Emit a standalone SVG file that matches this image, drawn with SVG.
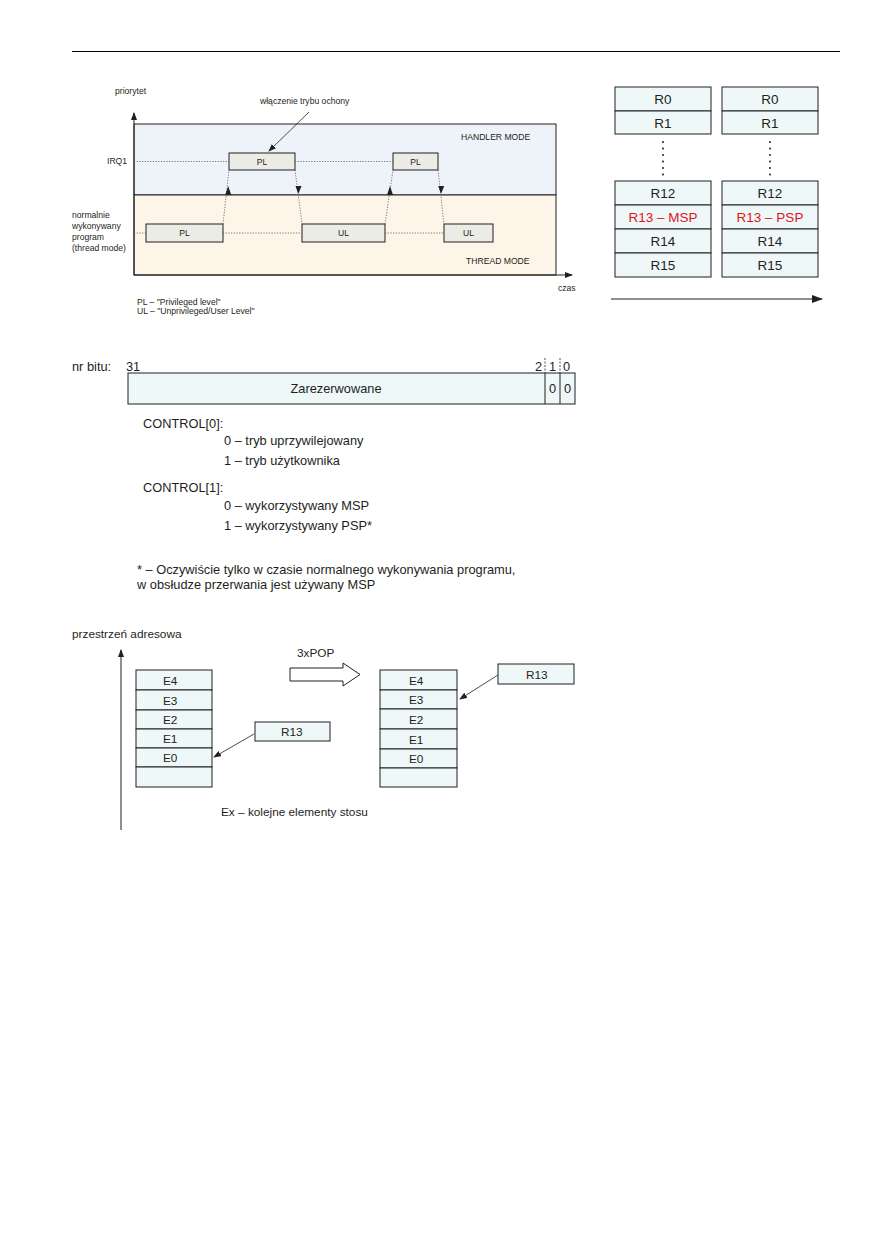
<svg xmlns="http://www.w3.org/2000/svg" width="893" height="1254" viewBox="0 0 893 1254">
<style>
text{font-family:"Liberation Sans",Arial,sans-serif;fill:#231f20}
.s7{font-size:8.6px}
.s11{font-size:12.8px}
.s10{font-size:11.8px}
.reg{font-size:13.5px;text-anchor:middle}
.red{fill:#e3131b}
.box{stroke:#231f20;stroke-width:1}
.pl{fill:#ececE6;stroke:#231f20;stroke-width:1}
.cy{fill:#eef8f8;stroke:#231f20;stroke-width:1}
.dot{stroke:#555;stroke-width:0.8;stroke-dasharray:1.2 1.5;fill:none}
.ln{stroke:#231f20;stroke-width:1;fill:none}
</style>
<defs>
<marker id="ah" markerWidth="8" markerHeight="6" refX="7" refY="3" orient="auto" markerUnits="userSpaceOnUse"><path d="M0,0L8,3L0,6z" fill="#231f20"/></marker>
<marker id="ahb" markerWidth="11" markerHeight="8" refX="10" refY="4" orient="auto" markerUnits="userSpaceOnUse"><path d="M0,0L11,4L0,8z" fill="#231f20"/></marker>
</defs>
<rect width="893" height="1254" fill="#fff"/>
<line x1="72" y1="51.5" x2="840" y2="51.5" stroke="#000" stroke-width="1.2"/>

<!-- Diagram 1: modes -->
<g id="modes">
<rect x="134" y="124" width="422" height="71" fill="#eef3fa" class="box"/>
<rect x="134" y="195" width="422" height="80" fill="#fdf5e8" class="box"/>
<text class="s7" x="461" y="140">HANDLER MODE</text>
<text class="s7" x="466" y="264">THREAD MODE</text>
<text class="s7" x="115" y="94">priorytet</text>
<text class="s7" x="558" y="291">czas</text>
<text class="s7" x="107" y="164">IRQ1</text>
<text class="s7" x="72" y="218">normalnie</text>
<text class="s7" x="72" y="229">wykonywany</text>
<text class="s7" x="72" y="240">program</text>
<text class="s7" x="72" y="251">(thread mode)</text>
<text class="s7" x="260" y="104">włączenie trybu ochony</text>
<text class="s7" x="137" y="305">PL – "Privileged level"</text>
<text class="s7" x="137" y="314">UL – "Unprivileged/User Level"</text>
</g>
<g id="axes">
<line x1="134" y1="275" x2="134" y2="113" class="ln" marker-end="url(#ah)"/>
<line x1="134" y1="275" x2="572" y2="275" class="ln" marker-end="url(#ah)"/>
</g>
<g id="pl1"><rect x="229" y="153" width="66" height="17" class="pl"/><text class="s7" x="262" y="164.5" text-anchor="middle">PL</text></g>
<g id="pl2"><rect x="393" y="153" width="45" height="17" class="pl"/><text class="s7" x="415.5" y="164.5" text-anchor="middle">PL</text></g>
<g id="pl0"><rect x="146" y="224" width="77" height="18" class="pl"/><text class="s7" x="184.5" y="236" text-anchor="middle">PL</text></g>
<g id="ul1"><rect x="302" y="224" width="83" height="18" class="pl"/><text class="s7" x="343.5" y="236" text-anchor="middle">UL</text></g>
<g id="ul2"><rect x="444" y="224" width="49" height="18" class="pl"/><text class="s7" x="468.5" y="236" text-anchor="middle">UL</text></g>
<g id="connectors1">
<line x1="134" y1="161.5" x2="229" y2="161.5" class="dot"/>
<line x1="295" y1="161.5" x2="393" y2="161.5" class="dot"/>
<line x1="134" y1="233" x2="146" y2="233" class="dot"/>
<line x1="223" y1="233" x2="302" y2="233" class="dot"/>
<line x1="385" y1="233" x2="444" y2="233" class="dot"/>
<path d="M223,224L229,170" class="dot"/>
<path d="M228.2,186L225.2,195L231.2,195z" fill="#231f20"/>
<path d="M295,170L302,224" class="dot"/>
<path d="M298.3,194L295.5,186L301.5,186z" fill="#231f20"/>
<path d="M385,224L393,170" class="dot"/>
<path d="M390,186L387,195L393,195z" fill="#231f20"/>
<path d="M438,170L444,224" class="dot"/>
<path d="M441,194L438.2,186L444.2,186z" fill="#231f20"/>
<line x1="309" y1="112" x2="269" y2="151" stroke="#231f20" stroke-width="0.8" marker-end="url(#ah)"/>
</g>

<!-- Diagram 2: registers -->
<g id="regs-msp">
<rect x="615" y="87" width="96" height="24" class="cy"/><text class="reg" x="663" y="104">R0</text>
<rect x="615" y="111" width="96" height="23" class="cy"/><text class="reg" x="663" y="127.5">R1</text>
<rect x="615" y="181" width="96" height="24" class="cy"/><text class="reg" x="663" y="198">R12</text>
<rect x="615" y="205" width="96" height="24" class="cy"/><text class="reg red" x="663" y="222">R13 – MSP</text>
<rect x="615" y="229" width="96" height="24" class="cy"/><text class="reg" x="663" y="246">R14</text>
<rect x="615" y="253" width="96" height="24" class="cy"/><text class="reg" x="663" y="270">R15</text>
<g fill="#231f20"><circle cx="663" cy="142" r="1"/><circle cx="663" cy="148.5" r="1"/><circle cx="663" cy="155" r="1"/><circle cx="663" cy="161.5" r="1"/><circle cx="663" cy="168" r="1"/><circle cx="663" cy="174.5" r="1"/></g>
</g>
<g id="regs-psp">
<rect x="722" y="87" width="96" height="24" class="cy"/><text class="reg" x="770" y="104">R0</text>
<rect x="722" y="111" width="96" height="23" class="cy"/><text class="reg" x="770" y="127.5">R1</text>
<rect x="722" y="181" width="96" height="24" class="cy"/><text class="reg" x="770" y="198">R12</text>
<rect x="722" y="205" width="96" height="24" class="cy"/><text class="reg red" x="770" y="222">R13 – PSP</text>
<rect x="722" y="229" width="96" height="24" class="cy"/><text class="reg" x="770" y="246">R14</text>
<rect x="722" y="253" width="96" height="24" class="cy"/><text class="reg" x="770" y="270">R15</text>
<g fill="#231f20"><circle cx="770" cy="142" r="1"/><circle cx="770" cy="148.5" r="1"/><circle cx="770" cy="155" r="1"/><circle cx="770" cy="161.5" r="1"/><circle cx="770" cy="168" r="1"/><circle cx="770" cy="174.5" r="1"/></g>
</g>
<g id="connectors2">
<line x1="611" y1="299" x2="822" y2="299" class="ln" marker-end="url(#ahb)"/>
</g>

<!-- Diagram 3: CONTROL register -->
<g id="control">
<text class="s11" x="72" y="371">nr bitu:</text>
<text class="s11" x="126" y="371">31</text>
<text class="s11" x="535" y="371">2</text>
<text class="s11" x="549" y="371">1</text>
<text class="s11" x="563" y="371">0</text>
<line x1="545" y1="358" x2="545" y2="373" stroke="#231f20" stroke-width="0.8" stroke-dasharray="2 1.5"/>
<line x1="560" y1="358" x2="560" y2="373" stroke="#231f20" stroke-width="0.8" stroke-dasharray="2 1.5"/>
<rect x="128" y="373" width="447" height="31" class="cy"/>
<line x1="545" y1="373" x2="545" y2="404" class="ln"/>
<line x1="560" y1="373" x2="560" y2="404" class="ln"/>
<text class="s11" x="336" y="393" text-anchor="middle">Zarezerwowane</text>
<text class="s11" x="552.5" y="393" text-anchor="middle">0</text>
<text class="s11" x="567.5" y="393" text-anchor="middle">0</text>
<text class="s11" x="143" y="428">CONTROL[0]:</text>
<text class="s11" x="224" y="445">0 – tryb uprzywilejowany</text>
<text class="s11" x="224" y="465">1 – tryb użytkownika</text>
<text class="s11" x="143" y="492">CONTROL[1]:</text>
<text class="s11" x="224" y="510">0 – wykorzystywany MSP</text>
<text class="s11" x="224" y="530">1 – wykorzystywany PSP*</text>
<text class="s11" x="137" y="574">* – Oczywiście tylko w czasie normalnego wykonywania programu,</text>
<text class="s11" x="137" y="589">w obsłudze przerwania jest używany MSP</text>
</g>

<!-- Diagram 4: stack -->
<g id="stack-labels">
<text class="s10" x="72" y="638">przestrzeń adresowa</text>
<text class="s10" x="297" y="657">3xPOP</text>
<text class="s10" x="221" y="816">Ex – kolejne elementy stosu</text>
</g>
<g id="stack-left">
<rect x="136" y="670" width="76" height="20" class="cy"/><text class="s10" x="163" y="684.5">E4</text>
<rect x="136" y="690" width="76" height="20" class="cy"/><text class="s10" x="163" y="704.5">E3</text>
<rect x="136" y="710" width="76" height="19" class="cy"/><text class="s10" x="163" y="724">E2</text>
<rect x="136" y="729" width="76" height="19" class="cy"/><text class="s10" x="163" y="743">E1</text>
<rect x="136" y="748" width="76" height="19" class="cy"/><text class="s10" x="163" y="762">E0</text>
<rect x="136" y="767" width="76" height="20" class="cy"/>
</g>
<g id="r13-left"><rect x="255" y="722" width="75" height="19" class="cy"/><text class="s10" x="281" y="736">R13</text></g>
<g id="stack-right">
<rect x="380" y="670" width="77" height="20" class="cy"/><text class="s10" x="409" y="684.5">E4</text>
<rect x="380" y="690" width="77" height="19" class="cy"/><text class="s10" x="409" y="704">E3</text>
<rect x="380" y="709" width="77" height="20" class="cy"/><text class="s10" x="409" y="723.5">E2</text>
<rect x="380" y="729" width="77" height="20" class="cy"/><text class="s10" x="409" y="743.5">E1</text>
<rect x="380" y="749" width="77" height="19" class="cy"/><text class="s10" x="409" y="763">E0</text>
<rect x="380" y="768" width="77" height="19" class="cy"/>
</g>
<g id="r13-right"><rect x="498" y="664" width="76" height="20" class="cy"/><text class="s10" x="526" y="678.5">R13</text></g>
<g id="pop-arrow"><path d="M290,668H343V663L360,674.5L343,686V681H290Z" fill="#fff" stroke="#231f20" stroke-width="1"/></g>
<g id="connectors4">
<line x1="121" y1="830" x2="121" y2="650" class="ln" marker-end="url(#ah)"/>
<line x1="254" y1="734" x2="214" y2="757" stroke="#231f20" stroke-width="0.8" marker-end="url(#ah)"/>
<line x1="498" y1="675" x2="460" y2="699" stroke="#231f20" stroke-width="0.8" marker-end="url(#ah)"/>
</g>
</svg>
